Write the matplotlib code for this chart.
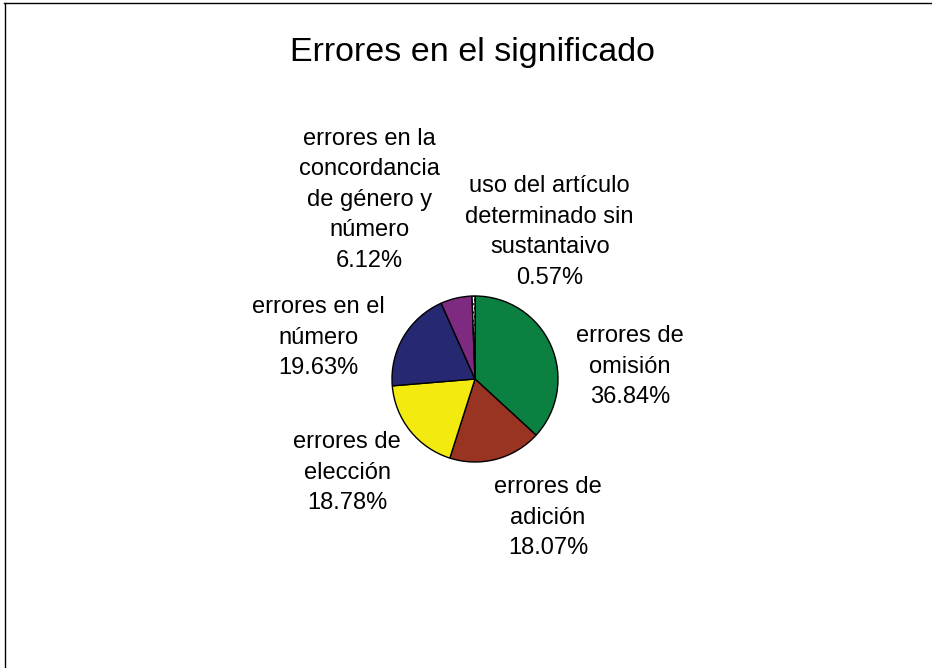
import matplotlib
matplotlib.use("Agg")
import matplotlib.pyplot as plt
from matplotlib.lines import Line2D

title = "Errores en el significado"
categories = [
    "errores de\nomisión",
    "errores de\nadición",
    "errores de\nelección",
    "errores en el\nnúmero",
    "errores en la\nconcordancia\nde género y\nnúmero",
    "uso del artículo\ndeterminado sin\nsustantaivo",
]
values = [36.84, 18.07, 18.78, 19.63, 6.12, 0.57]
colors = ["#0C8040", "#993322", "#F3EB10", "#262872", "#7E2A80", "#FFFFFF"]

# label centre offsets (in pie-radius units)
label_offsets = [(1.87, 0.15), (0.88, -1.67), (-1.54, -1.13),
                 (-1.89, 0.50), (-1.27, 2.16), (0.90, 1.77)]

plt.rcParams['font.family'] = ['Liberation Sans', 'DejaVu Sans']

W, H = 932, 668
fig = plt.figure(figsize=(W / 100, H / 100), dpi=100)
ax = fig.add_axes([0, 0, 1, 1])
R = 83.0
cx, cy = 475.0, H - 379.0

wedges, _ = ax.pie(values, colors=colors, startangle=90, counterclock=False,
                   radius=1.0, center=(0, 0), frame=True,
                   wedgeprops=dict(edgecolor='black', linewidth=1.0))
ax.set_xlim(-cx / R, (W - cx) / R)
ax.set_ylim(-cy / R, (H - cy) / R)
ax.set_aspect('auto')
ax.axis('off')
wedges[-1].set_hatch('....')

for cat, val, (dx, dy) in zip(categories, values, label_offsets):
    ax.text(dx, dy, f"{cat}\n{val:.2f}%", ha='center', va='center',
            fontsize=17, linespacing=1.5, color='black')

fig.text(472 / W, 1 - 52 / H, title, ha='center', va='center', fontsize=24.5)

# chart border (top and left visible)
fig.add_artist(Line2D([4.5 / W, 4.5 / W], [0, 1 - 2.5 / H], transform=fig.transFigure,
                      color='black', linewidth=1.0))
fig.add_artist(Line2D([4 / W, 1], [1 - 2.5 / H, 1 - 2.5 / H], transform=fig.transFigure,
                      color='black', linewidth=1.0))

fig.savefig("out.png", dpi=100)
